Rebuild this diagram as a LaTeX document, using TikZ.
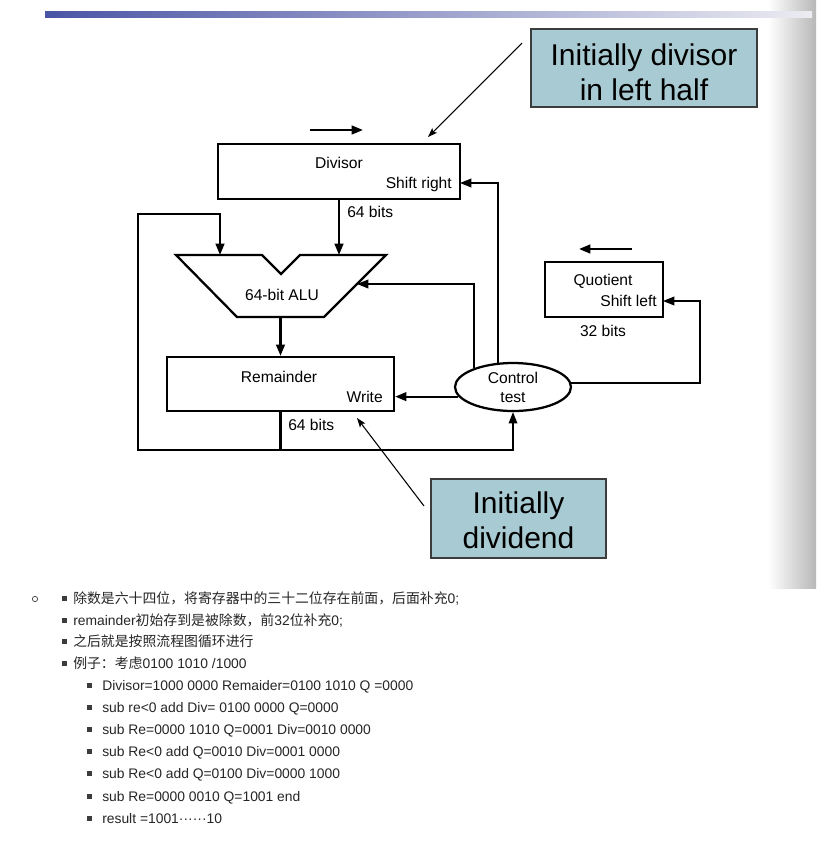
\documentclass[tikz,border=0pt]{standalone}
\usepackage{fontspec}
\setmainfont{Liberation Sans}
\newfontfamily\cjk{Noto Sans CJK SC}
\usetikzlibrary{arrows.meta,shapes.geometric,calc}
\definecolor{barL}{RGB}{74,84,165}
\definecolor{barR}{RGB}{236,236,242}
\definecolor{calfill}{RGB}{168,202,210}
\definecolor{calline}{RGB}{60,60,60}
\definecolor{listtxt}{RGB}{38,38,38}
\begin{document}
\begin{tikzpicture}[x=0.75pt,y=-0.75pt,
  regbox/.style={draw, line width=1.7pt, inner sep=0pt},
  thk/.style={line width=1.7pt, line join=miter, -{Triangle[length=8.5pt,width=6.5pt]}},
  thkline/.style={line width=1.7pt, line join=miter},
  thn/.style={line width=1.1pt, line join=miter, -{Triangle[length=8.5pt,width=6.5pt]}},
  cal/.style={line width=0.8pt, -{Stealth[length=7pt,width=5pt,inset=1.5pt]}},
  calbox/.style={draw=calline, fill=calfill, line width=0.9pt, inner sep=0pt},
  caltxt/.style={font=\fontsize{22.5pt}{26pt}\selectfont, anchor=base, inner sep=0pt},
  lbl/.style={font=\fontsize{11.7pt}{14pt}\selectfont, inner sep=0pt},
  lst/.style={font=\fontsize{10.4pt}{12.5pt}\selectfont, text=listtxt, anchor=base west, inner sep=0pt},
  bul/.style={fill=listtxt!90}
]
\useasboundingbox (0,0) rectangle (835,851);
\fill[white] (0,0) rectangle (835,851);

% slide decorations
\shade[left color=white, right color=black!28] (768,0) rectangle (816,588);
\shade[left color=barL, right color=barR] (45,11.5) rectangle (812,17);

% registers
\node[regbox, minimum width=181.5pt, minimum height=41.25pt] (div) at (339,171.5) {};
\node[regbox, minimum width=170.25pt, minimum height=40.5pt] (rem) at (280.5,384) {};
\node[regbox, minimum width=88.5pt, minimum height=41.25pt] (quo) at (604,289.5) {};
\node[draw, ellipse, line width=1.7pt, minimum width=87pt, minimum height=36pt, inner sep=0pt] (ctl) at (513,387) {};

\node[lbl, anchor=base] (divT) at (339,168) {Divisor};
\node[lbl, anchor=base east] (divS) at (452,188) {Shift right};
\node[lbl, anchor=base] (remT) at (279,382) {Remainder};
\node[lbl, anchor=base east] (remW) at (383,402) {Write};
\node[lbl, anchor=base] (quoT) at (603,285) {Quotient};
\node[lbl, anchor=base east] (quoS) at (657,306) {Shift left};
\node[lbl, anchor=base] (ctlA) at (513,383) {Control};
\node[lbl, anchor=base] (ctlB) at (513,402) {test};
\node[lbl, anchor=base west] (b64a) at (347,217) {64 bits};
\node[lbl, anchor=base west] (b64b) at (288,430) {64 bits};
\node[lbl, anchor=base] (b32) at (603,336) {32 bits};

% ALU
\coordinate (a1) at (176,255);
\coordinate (a2) at (262,255);
\coordinate (a3) at (281,274);
\coordinate (a4) at (300,255);
\coordinate (a5) at (386,255);
\coordinate (a6) at (324,317);
\coordinate (a7) at (237,317);
\draw[thkline] (a1) -- (a2) -- (a3) -- (a4) -- (a5) -- (a6) -- (a7) -- cycle;
\node[lbl, anchor=base] (aluT) at (282,300) {64-bit ALU};
\coordinate (aluInL) at (220,255);
\coordinate (aluInR) at (339,255);
\coordinate (aluOut) at (280.5,317);
\coordinate (aluSide) at (357,284);

% connectors
\draw[thk] (div.south) -- (aluInR);
\draw[thk] (aluOut) -- (rem.north);
\coordinate (remLoop) at (280.5,450);
\coordinate (loopBL) at (138,450);
\coordinate (loopTL) at (138,214);
\coordinate (loopTR) at (220,214);
\draw[thk] (rem.south) -- (remLoop) -- (loopBL) -- (loopTL) -- (loopTR) -- (aluInL);
\draw[thn] (remLoop) -| (ctl.south);
\draw[thk] (ctl.190) -- (ctl.190 -| rem.east);
\draw[thn] (ctl.154.5) |- (aluSide);
\coordinate (divIn) at (460,183);
\draw[thn] (ctl.122.9) |- (divIn);
\coordinate (qCorner) at (700,301);
\coordinate (quoIn) at (663,301);
\draw[thn] (ctl.4) -| (qCorner) -- (quoIn);

% shift direction arrows
\coordinate (dA) at (310,130);
\coordinate (dB) at (363,130);
\draw[thk] (dA) -- (dB);
\coordinate (qA) at (632,249);
\coordinate (qB) at (579,249);
\draw[thk] (qA) -- (qB);

% callouts
\node[calbox, minimum width=169.5pt, minimum height=58.5pt] (c1) at (644,68) {};
\node[caltxt] (c1a) at (644,65) {Initially divisor};
\node[caltxt] (c1b) at (644,100) {in left half};
\coordinate (c1t) at (522,43);
\coordinate (c1h) at (428,137);
\draw[cal] (c1t) -- (c1h);

\node[calbox, minimum width=131.25pt, minimum height=59.25pt] (c2) at (518.5,518.5) {};
\node[caltxt] (c2a) at (518.5,513) {Initially};
\node[caltxt] (c2b) at (518.5,548) {dividend};
\coordinate (c2t) at (424,506);
\coordinate (c2h) at (357,418);
\draw[cal] (c2t) -- (c2h);

% list
\draw[listtxt!80, line width=0.6pt] (35,599) circle[radius=2pt];
\foreach \yy in {598,620.5,641.5,663}{\fill[bul] (61.5,\yy-2.5) rectangle (66.5,\yy+2.5);}
\node[lst] (t1) at (73,603) {{\cjk 除数是六十四位，将寄存器中的三十二位存在前面，后面补充}0;};
\node[lst] (t2) at (73,625.5) {remainder{\cjk 初始存到是被除数，前}32{\cjk 位补充}0;};
\node[lst] (t3) at (73,646.5) {{\cjk 之后就是按照流程图循环进行}};
\node[lst] (t4) at (73,668) {{\cjk 例子：考虑}0100 1010 /1000};
\foreach \yy in {685.5,707.6,729.7,751.8,773.9,796,818.1}{\fill[bul] (86.5,\yy-2.5) rectangle (91.5,\yy+2.5);}
\node[lst] (s1) at (102,690.5) {Divisor=1000 0000 Remaider=0100 1010 Q =0000};
\node[lst] (s2) at (102,712.6) {sub re<0 add Div= 0100 0000 Q=0000};
\node[lst] (s3) at (102,734.7) {sub Re=0000 1010 Q=0001 Div=0010 0000};
\node[lst] (s4) at (102,756.8) {sub Re<0 add Q=0010 Div=0001 0000};
\node[lst] (s5) at (102,778.9) {sub Re<0 add Q=0100 Div=0000 1000};
\node[lst] (s6) at (102,801) {sub Re=0000 0010 Q=1001 end};
\node[lst] (s7) at (102,823.1) {result =1001······10};
\end{tikzpicture}
\end{document}
